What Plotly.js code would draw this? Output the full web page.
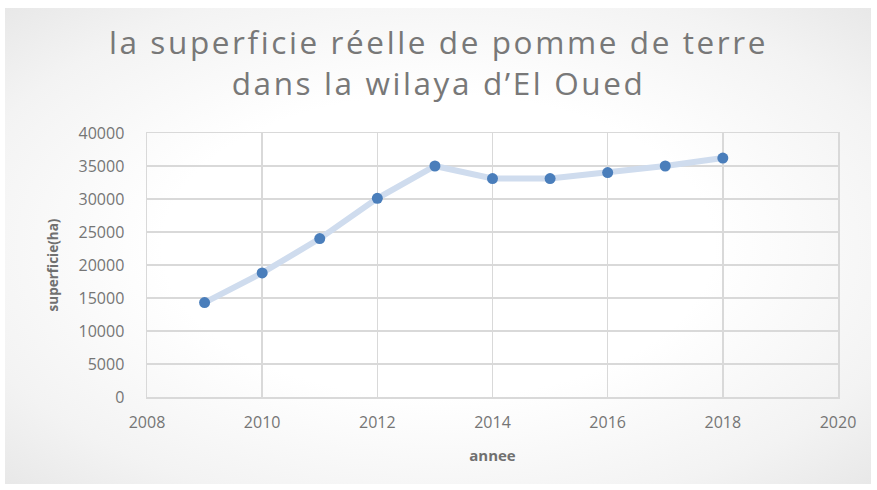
<!DOCTYPE html>
<html>
<head>
<meta charset="utf-8">
<script src="https://cdn.plot.ly/plotly-3.0.1.min.js"></script>
<style>
html,body{margin:0;padding:0;background:#ffffff;}
#wrap{position:relative;width:877px;height:490px;background:#ffffff;}
#bg{position:absolute;left:5px;top:8px;width:866px;height:476px;
background:radial-gradient(ellipse at 50% 50%, #ffffff 0%, #ffffff 45%, #f3f3f3 80%, #e8e8e8 100%);}
#chart{position:absolute;left:0;top:0;width:877px;height:490px;}
.gtitle{letter-spacing:2.6px;}
</style>
</head>
<body>
<div id="wrap"><div id="bg"></div><div id="chart"></div></div>
<script>
const years = [2009, 2010, 2011, 2012, 2013, 2014, 2015, 2016, 2017, 2018];
const superficie = [14300, 18800, 24000, 30100, 35000, 33100, 33100, 34000, 35000, 36200];
const titleText = "la superficie réelle de pomme de terre<br>dans la wilaya d’El Oued";
const xTitle = "annee";
const yTitle = "superficie(ha)";

const font = "'Open Sans', sans-serif";

const trace = {
  x: years, y: superficie, type: "scatter", mode: "lines+markers",
  line: {color: "#cfdcee", width: 6},
  marker: {color: "#4a7ebb", size: 11},
  hoverinfo: "x+y"
};

const layout = {
  width: 877, height: 490,
  paper_bgcolor: "rgba(0,0,0,0)", plot_bgcolor: "rgba(0,0,0,0)",
  margin: {l: 147, r: 39, t: 133, b: 93},
  showlegend: false,
  title: {text: titleText, font: {family: font, size: 31.5, color: "#787878"},
          x: 0.5, xanchor: "center", yref: "container", y: 0.89, yanchor: "middle"},
  xaxis: {
    range: [2008, 2020], dtick: 2, tick0: 2008, tickformat: "d",
    showgrid: true, gridcolor: "#d9d9d9", gridwidth: 1.5,
    showline: true, linecolor: "#d9d9d9", linewidth: 1.5, mirror: true,
    zeroline: false, ticks: "", ticklabelstandoff: 10,
    tickfont: {family: font, size: 16, color: "#757575"},
    title: {text: "<b>" + xTitle + "</b>", font: {family: font, size: 15, color: "#707070"}, standoff: 19}
  },
  yaxis: {
    range: [0, 40000], dtick: 5000, tickformat: "d",
    showgrid: true, gridcolor: "#d9d9d9", gridwidth: 1.5,
    showline: true, linecolor: "#d9d9d9", linewidth: 1.5, mirror: true,
    zeroline: false, ticks: "", ticklabelstandoff: 18,
    tickfont: {family: font, size: 16, color: "#757575"},
    title: {text: "<b>" + yTitle + "</b>", font: {family: font, size: 13.5, color: "#707070"}, standoff: 17}
  }
};

Plotly.newPlot("chart", [trace], layout, {displayModeBar: false, staticPlot: true});
</script>
</body>
</html>
